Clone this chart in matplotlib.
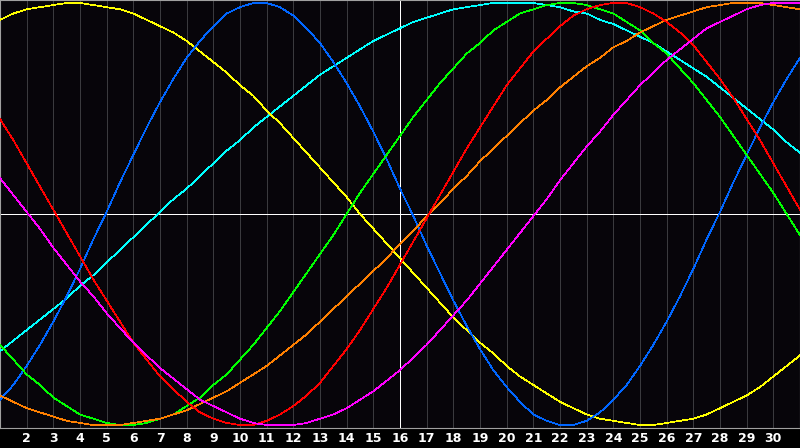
import matplotlib
matplotlib.use("Agg")
import matplotlib.pyplot as plt

# medio dia por punto, del dia 1 al 31
dias = [x / 2 for x in range(2, 63)]
etiquetas = [str(d) for d in range(2, 31)]
hoy = 16

# valores de cada ciclo (cada medio dia)
fisico = [-0.88, -0.81, -0.72, -0.62, -0.51, -0.39, -0.26, -0.12, 0.01, 0.15, 0.28, 0.41, 0.53, 0.64, 0.74, 0.82,
          0.89, 0.95, 0.98, 1.00, 1.00, 0.98, 0.94, 0.88, 0.81, 0.72, 0.62, 0.51, 0.39, 0.26, 0.12, -0.01,
          -0.15, -0.28, -0.41, -0.53, -0.64, -0.74, -0.82, -0.89, -0.95, -0.98, -1.00, -1.00, -0.98, -0.94,
          -0.88, -0.81, -0.72, -0.62, -0.51, -0.39, -0.26, -0.12, 0.01, 0.15, 0.28, 0.41, 0.53, 0.64, 0.74]
emocional = [0.45, 0.35, 0.24, 0.13, 0.02, -0.09, -0.20, -0.31, -0.41, -0.51, -0.61, -0.69, -0.77, -0.83, -0.89, -0.94,
             -0.97, -0.99, -1.00, -1.00, -0.98, -0.95, -0.91, -0.86, -0.80, -0.72, -0.64, -0.55, -0.45, -0.35, -0.24,
             -0.13, -0.02, 0.09, 0.20, 0.31, 0.41, 0.51, 0.61, 0.69, 0.77, 0.83, 0.89, 0.94, 0.97, 0.99, 1.00, 1.00,
             0.98, 0.95, 0.91, 0.86, 0.80, 0.72, 0.64, 0.55, 0.45, 0.35, 0.24, 0.13, 0.02]
intelectual = [-0.62, -0.69, -0.76, -0.81, -0.87, -0.91, -0.95, -0.97, -0.99, -1.00, -1.00, -0.99, -0.97, -0.95, -0.91,
               -0.87, -0.81, -0.76, -0.69, -0.62, -0.54, -0.46, -0.37, -0.28, -0.19, -0.10, 0.00, 0.10, 0.19, 0.28,
               0.37, 0.46, 0.54, 0.62, 0.69, 0.76, 0.81, 0.87, 0.91, 0.95, 0.97, 0.99, 1.00, 1.00, 0.99, 0.97, 0.95,
               0.91, 0.87, 0.81, 0.76, 0.69, 0.62, 0.54, 0.46, 0.37, 0.28, 0.19, 0.10, 0.00, -0.10]
intuitivo = [0.17, 0.09, 0.01, -0.07, -0.16, -0.24, -0.32, -0.39, -0.47, -0.54, -0.61, -0.67, -0.73, -0.78, -0.83, -0.88,
             -0.91, -0.94, -0.97, -0.99, -1.00, -1.00, -1.00, -0.99, -0.97, -0.95, -0.92, -0.88, -0.84, -0.79, -0.74,
             -0.68, -0.62, -0.55, -0.48, -0.41, -0.33, -0.25, -0.17, -0.09, -0.01, 0.07, 0.16, 0.24, 0.32, 0.39, 0.47,
             0.54, 0.61, 0.67, 0.73, 0.78, 0.83, 0.88, 0.91, 0.94, 0.97, 0.99, 1.00, 1.00, 1.00]
estetico = [0.92, 0.95, 0.97, 0.98, 0.99, 1.00, 1.00, 0.99, 0.98, 0.97, 0.95, 0.92, 0.89, 0.86, 0.82, 0.77, 0.72, 0.67,
            0.61, 0.56, 0.49, 0.43, 0.36, 0.29, 0.22, 0.15, 0.08, 0.00, -0.07, -0.14, -0.21, -0.28, -0.35, -0.42,
            -0.49, -0.55, -0.61, -0.66, -0.72, -0.77, -0.81, -0.85, -0.89, -0.92, -0.95, -0.97, -0.98, -0.99, -1.00,
            -1.00, -0.99, -0.98, -0.97, -0.95, -0.92, -0.89, -0.86, -0.82, -0.77, -0.72, -0.67]
conciencia = [-0.86, -0.89, -0.92, -0.94, -0.96, -0.98, -0.99, -1.00, -1.00, -1.00, -0.99, -0.98, -0.97, -0.95, -0.93,
              -0.90, -0.87, -0.84, -0.80, -0.76, -0.72, -0.67, -0.62, -0.57, -0.51, -0.45, -0.39, -0.33, -0.27, -0.21,
              -0.14, -0.08, -0.01, 0.05, 0.12, 0.18, 0.25, 0.31, 0.37, 0.43, 0.49, 0.54, 0.60, 0.65, 0.70, 0.74, 0.79,
              0.82, 0.86, 0.89, 0.92, 0.94, 0.96, 0.98, 0.99, 1.00, 1.00, 1.00, 0.99, 0.98, 0.97]
espiritual = [-0.65, -0.60, -0.55, -0.50, -0.45, -0.40, -0.34, -0.29, -0.23, -0.17, -0.11, -0.05, 0.01, 0.07, 0.12,
              0.18, 0.24, 0.30, 0.35, 0.41, 0.46, 0.51, 0.56, 0.61, 0.66, 0.70, 0.74, 0.78, 0.82, 0.85, 0.88, 0.91,
              0.93, 0.95, 0.97, 0.98, 0.99, 1.00, 1.00, 1.00, 1.00, 0.99, 0.98, 0.96, 0.95, 0.92, 0.90, 0.87, 0.84,
              0.81, 0.77, 0.73, 0.69, 0.65, 0.60, 0.55, 0.50, 0.45, 0.40, 0.34, 0.29]

ciclos = [
    (espiritual, '#00ffff'),
    (estetico, '#ffff00'),
    (fisico, '#0066ff'),
    (intelectual, '#00ff00'),
    (conciencia, '#ff8000'),
    (emocional, '#ff0000'),
    (intuitivo, '#ff00ff'),
]

fig = plt.figure(figsize=(8, 4.48), dpi=100, facecolor='black')
ax = fig.add_axes([0, 20 / 448, 1, 428 / 448])
ax.set_facecolor('#07050a')

# rejilla vertical y lineas de referencia
for d in range(2, 31):
    ax.axvline(d, color='#3a3a3e', lw=0.5, antialiased=False, zorder=1)
ax.axvline(hoy, color='white', lw=0.5, antialiased=False, zorder=2)
ax.axhline(0, color='white', lw=0.5, antialiased=False, zorder=2)

for valores, color in ciclos:
    ax.plot(dias, valores, color=color, lw=0.5, antialiased=False, zorder=3)

ax.set_xlim(1, 31)
ax.set_ylim(-1.014, 1.014)
ax.set_yticks([])
ax.set_xticks(range(2, 31))
ax.set_xticklabels(etiquetas, color='white', fontsize=9, fontweight='bold')
ax.tick_params(axis='x', length=0, pad=3)
for s in ax.spines.values():
    s.set_color('#a0a0a0')
    s.set_linewidth(0.8)

fig.savefig('out.png', dpi=100, facecolor='black')
